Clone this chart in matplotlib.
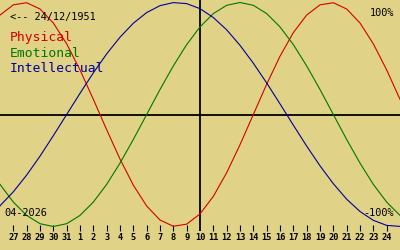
import matplotlib
matplotlib.use("Agg")
import matplotlib.pyplot as plt

# Days shown (offset from the centre day, 10 April 2026)
day_offsets = list(range(-15, 16))
day_labels = ["27", "28", "29", "30", "31", "1", "2", "3", "4", "5", "6", "7", "8", "9",
              "10", "11", "12", "13", "14", "15", "16", "17", "18", "19", "20", "21", "22", "23", "24"]
label_offsets = list(range(-14, 15))

physical = [0.888, 0.979, 0.998, 0.942, 0.817, 0.631, 0.398, 0.136, -0.136, -0.398,
            -0.631, -0.817, -0.942, -0.998, -0.979, -0.888, -0.731, -0.520, -0.270, 0.000,
            0.270, 0.520, 0.731, 0.888, 0.979, 0.998, 0.942, 0.817, 0.631, 0.398, 0.136]
emotional = [-0.624, -0.782, -0.901, -0.975, -1.000, -0.975, -0.901, -0.782, -0.624, -0.434,
             -0.223, 0.000, 0.223, 0.434, 0.624, 0.782, 0.901, 0.975, 1.000, 0.975,
             0.901, 0.782, 0.624, 0.434, 0.223, 0.000, -0.223, -0.434, -0.624, -0.782, -0.901]
intellectual = [-0.815, -0.690, -0.541, -0.372, -0.189, 0.000, 0.189, 0.372, 0.541, 0.690,
                0.815, 0.910, 0.972, 0.999, 0.990, 0.945, 0.866, 0.756, 0.618, 0.458,
                0.282, 0.095, -0.095, -0.282, -0.458, -0.618, -0.756, -0.866, -0.945, -0.990, -0.999]

birth_text = "<-- 24/12/1951"
month_text = "04-2026"
series_names = ["Physical", "Emotional", "Intellectual"]

BG = "#e0d286"
RED = "#d40000"
GREEN = "#007800"
BLUE = "#00009c"

W, H = 400, 250
fig = plt.figure(figsize=(W / 100, H / 100), dpi=100, facecolor=BG)
ax = fig.add_axes([0, 0, 1, 1])
ax.set_facecolor(BG)
ax.set_axis_off()

amp = 112.0
cy = 114.5
ax.set_xlim(-15, 15)
ax.set_ylim((cy - H) / amp, cy / amp)

def py(pix):
    return (cy - pix) / amp

# crosshair
ax.axhline(0, color="black", lw=1.3, zorder=1)
ax.plot([0, 0], [py(0), py(231)], color="black", lw=1.3, zorder=1, solid_capstyle="butt")

# curves
ax.plot(day_offsets, physical, color=RED, lw=0.8, zorder=3)
ax.plot(day_offsets, emotional, color=GREEN, lw=0.8, zorder=3)
ax.plot(day_offsets, intellectual, color=BLUE, lw=0.8, zorder=3)

# day ticks and labels
for off, lab in zip(label_offsets, day_labels):
    if off != 0:
        ax.plot([off, off], [py(225), py(230.5)], color="black", lw=0.8, solid_capstyle="butt")
    ax.text(off, py(237.5), lab, ha="center", va="center", fontsize=6.2,
            family="DejaVu Sans Mono", fontweight="bold", color="black")

mono = "DejaVu Sans Mono"
ax.text(-14.25, py(17), birth_text, ha="left", va="center", fontsize=7.4, family=mono, color="black")
for name, col, ypix in zip(series_names, [RED, GREEN, BLUE], [38, 53.5, 69]):
    ax.text(-14.25, py(ypix), name, ha="left", va="center", fontsize=9.4, family=mono, color=col)

ax.text(-14.7, py(212.5), month_text, ha="left", va="center", fontsize=7.4, family=mono, color="black")
ax.text(14.55, py(12.5), "100%", ha="right", va="center", fontsize=7.4, family=mono, color="black")
ax.text(14.55, py(212.5), "-100%", ha="right", va="center", fontsize=7.4, family=mono, color="black")

fig.savefig("out.png", dpi=100, facecolor=BG)
